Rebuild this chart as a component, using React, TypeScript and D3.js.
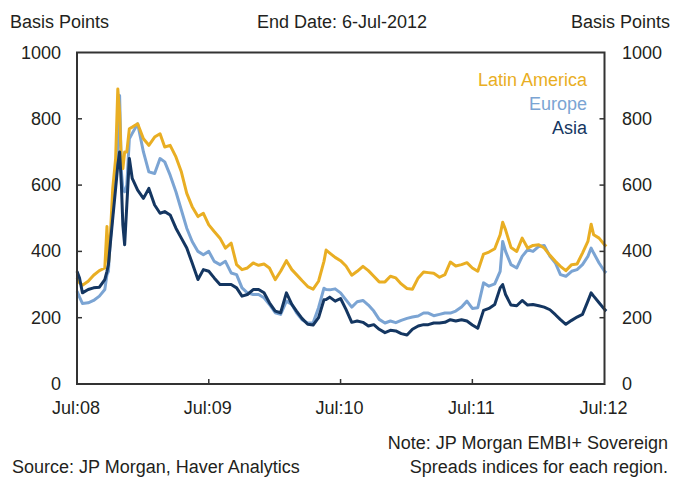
// EMBI+ sovereign spreads by region - Latin America / Europe / Asia
import React, { useEffect, useRef } from 'react';
import * as d3 from 'd3';

const dates = [
  '2008-07-01', '2008-07-08', '2008-07-16', '2008-08-01', '2008-08-16', '2008-09-01', '2008-09-16', '2008-09-22',
  '2008-09-26', '2008-10-01', '2008-10-08', '2008-10-16', '2008-10-22', '2008-10-27', '2008-11-01', '2008-11-05',
  '2008-11-10', '2008-11-16', '2008-11-23', '2008-12-01', '2008-12-16', '2009-01-01', '2009-01-16', '2009-02-01',
  '2009-02-16', '2009-03-01', '2009-03-16', '2009-04-01', '2009-04-16', '2009-05-01', '2009-05-16', '2009-06-01',
  '2009-06-16', '2009-07-01', '2009-07-16', '2009-08-01', '2009-08-16', '2009-09-01', '2009-09-16', '2009-10-01',
  '2009-10-16', '2009-11-01', '2009-11-16', '2009-12-01', '2009-12-16', '2010-01-01', '2010-01-16', '2010-02-01',
  '2010-02-16', '2010-03-01', '2010-03-16', '2010-04-01', '2010-04-16', '2010-05-01', '2010-05-16', '2010-05-22',
  '2010-06-01', '2010-06-16', '2010-07-01', '2010-07-16', '2010-08-01', '2010-08-16', '2010-09-01', '2010-09-16',
  '2010-10-01', '2010-10-16', '2010-11-01', '2010-11-16', '2010-12-01', '2010-12-16', '2011-01-01', '2011-01-16',
  '2011-02-01', '2011-02-16', '2011-03-01', '2011-03-16', '2011-04-01', '2011-04-16', '2011-05-01', '2011-05-16',
  '2011-06-01', '2011-06-16', '2011-07-01', '2011-07-16', '2011-08-01', '2011-08-16', '2011-09-01', '2011-09-16',
  '2011-09-23', '2011-10-01', '2011-10-16', '2011-11-01', '2011-11-16', '2011-12-01', '2011-12-16', '2012-01-01',
  '2012-01-16', '2012-02-01', '2012-02-16', '2012-03-01', '2012-03-16', '2012-04-01', '2012-04-16', '2012-05-01',
  '2012-05-16', '2012-05-25', '2012-06-01', '2012-06-16', '2012-07-01', '2012-07-06'
];

const latinAmerica = [
  320, 305, 298, 310, 328, 342, 350, 475, 360, 440, 590, 680, 890, 820, 660, 650,
  700, 700, 770, 775, 785, 740, 720, 745, 755, 715, 720, 685, 640, 575, 535, 505,
  515, 480, 460, 440, 410, 425, 360, 345, 350, 365, 358, 362, 350, 315, 340, 372,
  345, 330, 312, 294, 286, 310, 370, 404, 395, 382, 372, 356, 328, 340, 355, 342,
  325, 308, 308, 325, 320, 302, 288, 286, 320, 338, 336, 334, 322, 330, 368, 356,
  360, 366, 350, 340, 392, 398, 408, 450, 488, 465, 412, 400, 440, 410, 418, 420,
  410, 388, 370, 355, 342, 360, 362, 395, 430, 482, 450, 440, 420, 415
];

const europe = [
  280, 262, 243, 245, 252, 265, 285, 330, 340, 430, 520, 630, 720, 870, 640, 590,
  580, 600, 740, 756, 785, 700, 640, 635, 680, 670, 630, 580, 525, 470, 430, 400,
  390, 400, 370, 360, 370, 335, 330, 290, 275, 270, 270, 260, 240, 215, 210, 250,
  240, 215, 194, 184, 185, 230, 289, 285, 284, 287, 275, 254, 232, 248, 252, 238,
  220, 195, 184, 190, 185, 192, 198, 202, 205, 214, 214, 206, 210, 214, 214, 220,
  232, 250, 228, 230, 305, 295, 302, 340, 430, 400, 360, 350, 385, 405, 400, 415,
  418, 385, 365, 330, 325, 340, 345, 360, 385, 410, 395, 365, 340, 335
];

const asia = [
  340, 320, 275, 285, 290, 292, 315, 340, 360, 420, 500, 590, 660, 700, 600, 480,
  420, 540, 680, 620, 585, 560, 590, 540, 515, 520, 510, 470, 440, 410, 365, 315,
  345, 340, 320, 300, 300, 300, 290, 265, 270, 285, 285, 275, 245, 220, 215, 275,
  240, 220, 198, 180, 178, 200, 254, 255, 262, 250, 258, 225, 186, 190, 186, 175,
  179, 165, 155, 162, 160, 152, 148, 165, 175, 179, 179, 184, 184, 186, 194, 190,
  194, 190, 178, 168, 222, 228, 240, 290, 300, 270, 238, 236, 252, 238, 240, 236,
  232, 224, 209, 194, 180, 192, 202, 210, 250, 275, 265, 245, 225, 220
];

const seriesNames = ['Latin America', 'Europe', 'Asia'];
const yTicks = [0, 200, 400, 600, 800, 1000];
const xTickDates = ['2008-07-01', '2009-07-01', '2010-07-01', '2011-07-01', '2012-07-01'];
const xTickLabels = ['Jul:08', 'Jul:09', 'Jul:10', 'Jul:11', 'Jul:12'];

const colors: Record<string, string> = {
  'Latin America': '#E9AE23',
  'Europe': '#7BA4D3',
  'Asia': '#143661'
};

const WIDTH = 673;
const HEIGHT = 477;
const FONT = '"Liberation Sans", Arial, Helvetica, sans-serif';
const TEXT = '#231f20';

export default function App() {
  const svgRef = useRef<SVGSVGElement>(null);

  useEffect(() => {
    if (!svgRef.current) return;
    const svg = d3.select(svgRef.current);
    svg.selectAll('*').remove();

    const left = 77, right = 604.5, top = 52.5, bottom = 384;
    const parse = d3.timeParse('%Y-%m-%d');

    const x = d3.scaleTime()
      .domain([parse('2008-07-01') as Date, parse('2012-07-01') as Date])
      .range([left, right]);
    const y = d3.scaleLinear().domain([0, 1000]).range([bottom, top]);

    const parsed = dates.map(d => parse(d) as Date);
    const valuesByName: Record<string, number[]> = {
      'Latin America': latinAmerica,
      'Europe': europe,
      'Asia': asia
    };

    const line = d3.line<number>()
      .x((_, i) => x(parsed[i]))
      .y(d => y(d));

    // draw order: Europe underneath, then Latin America, Asia on top
    ['Europe', 'Latin America', 'Asia'].forEach(name => {
      svg.append('path')
        .datum(valuesByName[name])
        .attr('d', line)
        .attr('fill', 'none')
        .attr('stroke', colors[name])
        .attr('stroke-width', 3)
        .attr('stroke-linejoin', 'round');
    });

    // frame
    svg.append('rect')
      .attr('x', left)
      .attr('y', top)
      .attr('width', right - left)
      .attr('height', bottom - top)
      .attr('fill', 'none')
      .attr('stroke', '#333')
      .attr('stroke-width', 2);

    const txt = (tx: number, ty: number, s: string, anchor = 'start', fill = TEXT) =>
      svg.append('text')
        .attr('x', tx)
        .attr('y', ty)
        .attr('text-anchor', anchor)
        .attr('font-family', FONT)
        .attr('font-size', 18)
        .attr('fill', fill)
        .text(s);

    // y ticks both sides, pointing inward
    yTicks.forEach(v => {
      if (v > 0 && v < 1000) {
        svg.append('line')
          .attr('x1', left).attr('x2', left + 5)
          .attr('y1', y(v)).attr('y2', y(v))
          .attr('stroke', '#333').attr('stroke-width', 1.5);
        svg.append('line')
          .attr('x1', right - 5).attr('x2', right)
          .attr('y1', y(v)).attr('y2', y(v))
          .attr('stroke', '#333').attr('stroke-width', 1.5);
      }
      txt(61, y(v) + 6, String(v), 'end');
      txt(622, y(v) + 6, String(v), 'start');
    });

    // x ticks
    xTickDates.forEach((d, i) => {
      const px = x(parse(d) as Date);
      if (i > 0 && i < xTickDates.length - 1) {
        svg.append('line')
          .attr('x1', px).attr('x2', px)
          .attr('y1', bottom).attr('y2', bottom - 5)
          .attr('stroke', '#333').attr('stroke-width', 1.5);
      }
      txt(px - 1, 414, xTickLabels[i], 'middle');
    });

    // headers
    txt(10, 28, 'Basis Points');
    txt(342, 28, 'End Date: 6-Jul-2012', 'middle');
    txt(670, 28, 'Basis Points', 'end');

    // legend
    seriesNames.forEach((name, i) => {
      txt(587, 86 + i * 24, name, 'end', colors[name]);
    });

    // footer
    txt(12, 473, 'Source: JP Morgan, Haver Analytics');
    txt(668, 449, 'Note: JP Morgan EMBI+ Sovereign', 'end');
    txt(668, 473, 'Spreads indices for each region.', 'end');
  }, []);

  return (
    <svg
      ref={svgRef}
      width={WIDTH}
      height={HEIGHT}
      style={{ position: 'absolute', left: 0, top: 0, background: '#fff' }}
    />
  );
}
